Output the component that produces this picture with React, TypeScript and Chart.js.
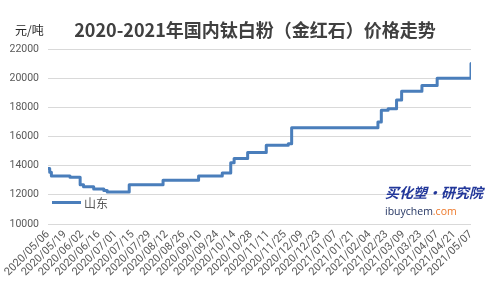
import { useEffect, useRef } from 'react';
import { Chart, registerables } from 'chart.js';
Chart.register(...registerables);

const titleText = '2020-2021年国内钛白粉（金红石）价格走势';
const unitText = '元/吨';
const seriesName = '山东';
const tickLabels = [
  '2020/05/06', '2020/05/19', '2020/06/02', '2020/06/16', '2020/07/01', '2020/07/15',
  '2020/07/29', '2020/08/12', '2020/08/26', '2020/09/10', '2020/09/24', '2020/10/14',
  '2020/10/28', '2020/11/11', '2020/11/25', '2020/12/09', '2020/12/23', '2021/01/07',
  '2021/01/21', '2021/02/04', '2021/02/23', '2021/03/09', '2021/03/23', '2021/04/07',
  '2021/04/21', '2021/05/07',
];
// trading-day index (10 trading days between tick labels) where a new price starts
const changeDays = [0, 1, 2, 13, 19, 21, 27, 33, 35, 48, 68, 89, 103, 108, 110, 118, 129, 142, 144, 195, 197, 201, 206, 209, 221, 230, 250];
const prices = [13800, 13550, 13300, 13200, 12700, 12550, 12400, 12300, 12200, 12700, 13000, 13300, 13500, 14200, 14500, 14900, 15400, 15500, 16600, 17000, 17800, 17900, 18500, 19100, 19500, 20000, 21000];
const yTicks = [10000, 12000, 14000, 16000, 18000, 20000, 22000];
const daysPerLabel = 10;

const FONT = 'Roboto, "Noto Sans CJK SC", sans-serif';
const LINE_COLOR = '#4a7ebb';

export default function App() {
  const ref = useRef<HTMLCanvasElement | null>(null);
  useEffect(() => {
    const canvas = ref.current;
    if (!canvas) return;
    const overlay = {
      id: 'overlay',
      afterDraw(chart: any) {
        const ctx = chart.ctx as CanvasRenderingContext2D;
        ctx.save();
        // unit
        ctx.fillStyle = '#262626';
        ctx.font = '12px "Noto Sans CJK SC", sans-serif';
        ctx.textBaseline = 'middle';
        ctx.textAlign = 'left';
        ctx.fillText(unitText, 15, 30);
        // title
        ctx.fillStyle = '#404040';
        ctx.font = 'bold 18px "Noto Sans CJK SC", sans-serif';
        ctx.textAlign = 'center';
        ctx.fillText(titleText, 255, 30);
        // legend
        ctx.strokeStyle = LINE_COLOR;
        ctx.lineWidth = 3;
        ctx.beginPath();
        ctx.moveTo(52, 202.5);
        ctx.lineTo(81, 202.5);
        ctx.stroke();
        ctx.fillStyle = '#595959';
        ctx.font = '12px "Noto Sans CJK SC", sans-serif';
        ctx.textAlign = 'left';
        ctx.fillText(seriesName, 84, 203);
        // watermark
        ctx.fillStyle = '#22379a';
        ctx.font = 'italic bold 14px "Noto Sans CJK SC", sans-serif';
        ctx.fillText('买化塑·研究院', 385, 193);
        ctx.font = '10.5px "Open Sans", sans-serif';
        ctx.fillStyle = '#1e2f5e';
        ctx.fillText('ibuychem', 385, 212.5);
        const w = ctx.measureText('ibuychem').width;
        ctx.fillStyle = '#ee7a2c';
        ctx.fillText('.com', 385 + w, 212.5);
        ctx.restore();
      },
    };
    const chart = new Chart(canvas, {
      type: 'line',
      data: {
        datasets: [
          {
            label: seriesName,
            data: changeDays.map((d, i) => ({ x: d, y: prices[i] })),
            borderColor: LINE_COLOR,
            borderWidth: 3,
            pointRadius: 0,
            stepped: 'before',
            fill: false,
            borderJoinStyle: 'round',
            borderCapStyle: 'round',
          },
        ],
      },
      options: {
        animation: false,
        responsive: false,
        devicePixelRatio: 1,
        layout: { padding: { top: 49, right: 20, left: 0, bottom: 0 } },
        plugins: {
          legend: { display: false },
          title: { display: false },
          tooltip: { enabled: false },
        },
        scales: {
          x: {
            type: 'linear',
            min: 0,
            max: (tickLabels.length - 1) * daysPerLabel,
            grid: { display: false, drawTicks: false },
            border: { display: false },
            afterBuildTicks: (scale: any) => {
              scale.ticks = tickLabels.map((_, i) => ({ value: i * daysPerLabel }));
            },
            afterFit: (scale: any) => {
              scale.height = 65;
              scale.paddingLeft = 0;
              scale.paddingRight = 0;
            },
            ticks: {
              autoSkip: false,
              maxRotation: 45,
              minRotation: 45,
              padding: 4,
              color: '#595959',
              font: { family: FONT, size: 11 },
              callback: (v: any) => tickLabels[Math.round(Number(v) / daysPerLabel)] ?? '',
            },
          },
          y: {
            min: yTicks[0],
            max: yTicks[yTicks.length - 1],
            afterBuildTicks: (scale: any) => {
              scale.ticks = yTicks.map((v) => ({ value: v }));
            },
            afterFit: (scale: any) => {
              scale.width = 48;
            },
            grid: { color: '#d9d9d9', lineWidth: 1, drawTicks: false },
            border: { display: false },
            ticks: {
              padding: 9,
              color: '#595959',
              font: { family: FONT, size: 10.5 },
              callback: (v: any) => String(v),
            },
          },
        },
      },
      plugins: [overlay],
    } as any);
    return () => chart.destroy();
  }, []);
  return (
    <div style={{ position: 'fixed', left: 0, top: 0, width: 491, height: 289, background: '#fff' }}>
      <canvas ref={ref} width={491} height={289} style={{ width: 491, height: 289, display: 'block' }} />
    </div>
  );
}
